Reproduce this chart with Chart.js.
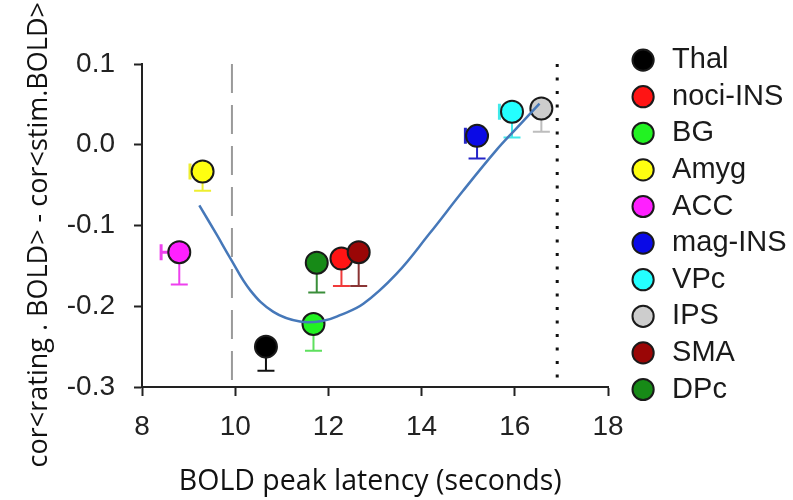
<!DOCTYPE html>
<html>
<head>
<meta charset="utf-8">
<script src="https://cdn.jsdelivr.net/npm/chart.js@4/dist/chart.umd.min.js"></script>
<style>
  html, body { margin: 0; padding: 0; background: #fff; }
  #wrap { width: 793px; height: 500px; }
</style>
</head>
<body>
<div id="wrap"><canvas id="chart" width="793" height="500"></canvas></div>
<script>
// regiones y sus valores
const regions = ['Thal', 'noci-INS', 'BG', 'Amyg', 'ACC', 'mag-INS', 'VPc', 'IPS', 'SMA', 'DPc']
const latencySec = [10.66, 12.28, 11.68, 9.30, 8.80, 15.19, 15.94, 16.57, 12.65, 11.75]
const corrDiff = [-0.250, -0.141, -0.222, -0.033, -0.133, 0.011, 0.041, 0.045, -0.133, -0.146]
const corrErr = [0.030, 0.034, 0.033, 0.024, 0.040, 0.028, 0.032, 0.029, 0.042, 0.037]
const latencyErr = [0, 0, 0, 0.27, 0.39, 0.25, 0.27, 0, 0, 0]

// curva de ajuste (puntos leidos sobre la linea azul)
const fitLatency = [9.23, 9.61, 9.89, 10.32, 10.82, 11.39, 11.89, 12.25, 12.75, 13.46, 14.17, 14.89, 15.60, 16.03, 16.53]
const fitCorr = [-0.075, -0.112, -0.140, -0.180, -0.207, -0.219, -0.218, -0.211, -0.197, -0.160, -0.110, -0.057, -0.007, 0.020, 0.051]

// lineas verticales de referencia
const dashedLatency = 9.93
const dottedLatency = 16.91

const xTicks = [8, 10, 12, 14, 16, 18]
const yTicks = [-0.3, -0.2, -0.1, 0.0, 0.1]

// colores
const pointColors = ['#000000', '#ff1414', '#22f222', '#ffff10', '#ff20ff', '#0a0ae6', '#24ffff', '#cdcdcd', '#9a0606', '#178a17']
const errColors = ['#111111', '#f03a3a', '#5ee05e', '#eeee30', '#ee40ee', '#2424c8', '#40eaea', '#bdbdbd', '#8a3434', '#3a8e3a']

//plugin para dibujar las barras de error
const errorBars = {
    id: 'errorBars',
    beforeDatasetsDraw(chart){
        const xs = chart.scales.x
        const ys = chart.scales.y
        const ctx = chart.ctx
        ctx.save()
        ctx.lineCap = 'butt'
        regions.forEach((name, i) => {
            const px = xs.getPixelForValue(latencySec[i])
            const py = ys.getPixelForValue(corrDiff[i])
            const lo = ys.getPixelForValue(corrDiff[i] - corrErr[i])
            ctx.strokeStyle = errColors[i]
            ctx.lineWidth = 2
            ctx.beginPath()
            ctx.moveTo(px, py)
            ctx.lineTo(px, lo)
            ctx.moveTo(px - 8.5, lo)
            ctx.lineTo(px + 8.5, lo)
            ctx.stroke()
            if(latencyErr[i] > 0){
                const left = xs.getPixelForValue(latencySec[i] - latencyErr[i])
                ctx.lineWidth = 3
                ctx.beginPath()
                ctx.moveTo(px, py)
                ctx.lineTo(left, py)
                ctx.moveTo(left, py - 8)
                ctx.lineTo(left, py + 8)
                ctx.stroke()
            }
        })
        ctx.restore()
    }
}

//mover la leyenda a su sitio (y abrir su recorte hasta el borde)
const legendNudge = {
    id: 'legendNudge',
    afterLayout(chart){
        const lg = chart.legend
        if(!lg) return
        lg.left = 621
        lg.right = chart.width
        lg.top = 38
        lg.bottom = chart.height
        lg.width = lg.right - lg.left
        lg.height = lg.bottom - lg.top
    }
}

const pointSets = regions.map((name, i) => ({
    label: name,
    data: [{x: latencySec[i], y: corrDiff[i]}],
    pointStyle: 'circle',
    pointRadius: 11,
    pointHoverRadius: 11,
    pointBackgroundColor: pointColors[i],
    pointBorderColor: '#1a1a1a',
    pointBorderWidth: 2,
    order: name === 'SMA' ? 1 : 2
}))

const fitSet = {
    label: '',
    data: fitLatency.map((x, i) => ({x: x, y: fitCorr[i]})),
    showLine: true,
    pointRadius: 0,
    borderColor: '#4678b9',
    borderWidth: 2.5,
    tension: 0.4,
    order: 0
}

const dashedSet = {
    label: '',
    data: [{x: dashedLatency, y: 0.1}, {x: dashedLatency, y: -0.3}],
    showLine: true,
    pointRadius: 0,
    borderColor: '#9a9a9a',
    borderWidth: 2,
    borderDash: [29, 12],
    order: 3
}

const dottedSet = {
    label: '',
    data: [{x: dottedLatency, y: 0.1}, {x: dottedLatency, y: -0.29}],
    showLine: true,
    pointRadius: 0,
    borderColor: '#111111',
    borderWidth: 3,
    borderDash: [3, 10.5],
    order: 3
}

const ctx = document.getElementById('chart').getContext('2d')
const chart = new Chart(ctx, {
    type: 'scatter',
    data: { datasets: [...pointSets, fitSet, dashedSet, dottedSet] },
    options: {
        responsive: false,
        animation: false,
        layout: { padding: {top: 64, right: 25, bottom: 0, left: 0} },
        plugins: {
            tooltip: { enabled: false },
            legend: {
                position: 'right',
                align: 'start',
                maxWidth: 160,
                labels: {
                    usePointStyle: true,
                    boxHeight: 15,
                    padding: 7.6,
                    color: '#1a1a1a',
                    font: { family: 'Liberation Sans', size: 29 },
                    filter: item => item.text !== '',
                    sort: (a, b) => a.datasetIndex - b.datasetIndex
                }
            }
        },
        scales: {
            x: {
                type: 'linear',
                min: 8,
                max: 18,
                afterBuildTicks: s => { s.ticks = xTicks.map(v => ({value: v})) },
                afterFit: s => { s.height = 113; s.paddingLeft = 0; s.paddingRight = 0 },
                grid: { display: true, drawOnChartArea: false, drawTicks: true, tickLength: 9, tickWidth: 2, tickColor: '#222' },
                border: { display: true, color: '#222', width: 2 },
                ticks: { color: '#222', font: { family: 'Liberation Sans', size: 28 }, padding: 14, maxRotation: 0, autoSkip: false },
                title: { display: true, text: 'BOLD peak latency (seconds)\u2009\u2009', color: '#111', font: { family: 'Open Sans', size: 28.5 }, padding: {top: 0, bottom: 1} }
            },
            y: {
                type: 'linear',
                min: -0.3,
                max: 0.1,
                afterBuildTicks: s => { s.ticks = yTicks.map(v => ({value: v})) },
                afterFit: s => { s.width = 142; s.paddingTop = 0; s.paddingBottom = 0 },
                grid: { display: true, drawOnChartArea: false, drawTicks: true, tickLength: 8, tickWidth: 2, tickColor: '#222' },
                border: { display: true, color: '#222', width: 2 },
                ticks: {
                    color: '#222',
                    font: { family: 'Liberation Sans', size: 28 },
                    padding: 19,
                    callback: v => Math.abs(v) < 1e-9 ? '0.0' : v.toFixed(1)
                },
                title: { display: true, text: 'cor<rating . BOLD> - cor<stim.BOLD>  \u2009', color: '#111', font: { family: 'Open Sans', size: 27 }, padding: {top: 22.8, bottom: 0} }
            }
        }
    },
    plugins: [errorBars, legendNudge]
})
</script>
</body>
</html>
